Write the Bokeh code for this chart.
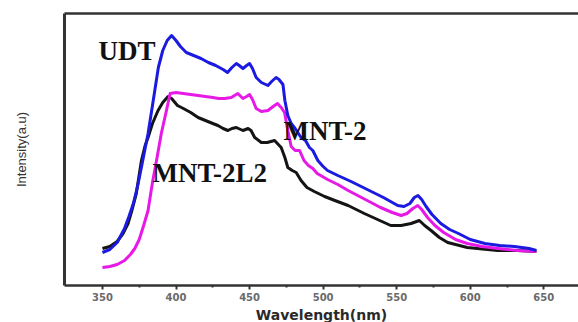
from bokeh.plotting import figure
from bokeh.models import Range1d, FixedTicker, LinearAxis, Label
from bokeh.embed import file_html
from bokeh.resources import INLINE

# Emission spectra (wavelength in nm, intensity in arbitrary units)
udt_wl = [350, 355, 360, 365, 368, 371, 374, 377, 381, 384, 388, 391, 394, 397,
          400, 403, 407, 412, 417, 422, 427, 432, 435, 438, 441, 443, 445.5, 448,
          450, 452, 454.5, 458, 462.5, 465, 468, 470, 472.7, 474, 476, 478.3, 481,
          485, 488, 490.7, 493, 496.4, 500, 503, 510, 519, 530, 541, 550.7, 555,
          559, 562, 564.5, 567, 570, 574, 580, 586, 592, 600, 610, 620, 630, 640, 645]
udt_int = [33, 36, 43, 57, 69, 82, 100, 122, 152, 180, 218, 235, 245, 250,
           245, 239, 233, 230, 227, 223, 220, 216, 213, 218, 222, 220, 217, 220,
           222, 217, 208, 203, 200, 204, 208, 206, 201, 185, 170, 162, 157,
           148, 145, 138, 135, 125, 119, 115, 110, 104, 96, 88, 80, 79,
           82, 88, 90, 86, 79, 71, 62, 56, 52, 46, 42, 40, 39, 37, 35]

mnt2_wl = [350, 355, 360, 365, 369, 372, 375, 378, 381, 384, 387, 390, 393.5, 396,
           400, 405, 410, 415, 420, 425, 429, 433, 437.6, 442, 445.5, 448, 450, 452,
           454.5, 458, 462.5, 466, 469, 471.5, 473.8, 476, 478.3, 481, 484, 487, 490,
           493, 496, 503, 510, 517, 530, 539, 547, 553, 557, 561, 564.3, 567, 571,
           576, 582, 590, 598, 608, 619, 632, 645]
mnt2_int = [18, 19, 21, 25, 31, 37, 46, 60, 75, 103, 127, 152, 175, 192,
            193, 192, 191, 190, 189, 188, 187, 187, 188, 192, 187, 189, 191, 186,
            177, 174, 175, 179, 182, 178, 173, 155, 139, 135, 135, 125, 120,
            117, 112, 106, 101, 95, 85, 78, 73, 70, 72, 77, 80, 76, 68,
            60, 53, 46, 42, 39, 37, 35, 34]

mnt2l2_wl = [350, 355, 360, 364, 367.4, 370, 373, 376.5, 379, 381, 384, 387.8, 391,
             394.6, 397, 401, 405, 410, 415, 420, 425, 428.5, 432, 435.3, 438, 441,
             445.5, 449, 451, 453.5, 458, 462, 467, 471.5, 474, 476, 479, 481.7, 485,
             489, 494, 501, 508, 517, 528, 537, 546, 553, 559.8, 565.4, 569, 573.4,
             579, 584.7, 598, 618.6, 632, 645]
mnt2l2_int = [37, 39, 44, 52, 62, 75, 92, 125, 140, 148, 162, 175, 183,
              189, 187, 180, 177, 173, 168, 165, 162, 160, 157, 155, 157, 158,
              155, 157, 155, 148, 143, 143, 145, 138, 128, 118, 115, 113, 105,
              98, 94, 89, 85, 80, 72, 66, 60, 60, 62, 65, 60, 55,
              48, 43, 38, 35, 35, 34]

x_major = [350, 400, 450, 500, 550, 600, 650]
x_minor = [375, 425, 475, 525, 575, 625]

p = figure(width=578, height=322, output_backend="svg", toolbar_location=None,
           x_range=Range1d(324.2, 673.6), y_range=Range1d(0, 272),
           frame_width=514, frame_height=272,
           min_border_left=64, min_border_right=0, min_border_top=13,
           min_border_bottom=37)
p.outline_line_color = None
p.background_fill_color = "white"
p.border_fill_color = "white"
p.xgrid.visible = False
p.ygrid.visible = False

axis_color = "#333333"

# bottom wavelength axis
xa = p.xaxis[0]
xa.ticker = FixedTicker(ticks=x_major, minor_ticks=x_minor)
xa.axis_line_width = 2.5
xa.axis_line_color = axis_color
xa.major_tick_line_color = axis_color
xa.major_tick_line_width = 2
xa.major_tick_out = 4
xa.major_tick_in = 0
xa.minor_tick_line_color = axis_color
xa.minor_tick_line_width = 2
xa.minor_tick_out = 2
xa.minor_tick_in = 0
xa.major_label_text_font = "DejaVu Sans"
xa.major_label_text_font_style = "bold"
xa.major_label_text_font_size = "10px"
xa.major_label_text_color = "#6a6a6a"
xa.major_label_standoff = 3
xa.axis_label = "Wavelength(nm)"
xa.axis_label_text_font = "DejaVu Sans"
xa.axis_label_text_font_style = "bold"
xa.axis_label_text_font_size = "14px"
xa.axis_label_text_color = "#2a2a2a"
xa.axis_label_standoff = 3

# left intensity axis, no ticks
ya = p.yaxis[0]
ya.ticker = FixedTicker(ticks=[])
ya.axis_line_width = 3
ya.axis_line_color = axis_color
ya.major_tick_line_color = None
ya.minor_tick_line_color = None
ya.axis_label = "Intensity(a.u)"
ya.axis_label_text_font = "Liberation Sans"
ya.axis_label_text_font_style = "normal"
ya.axis_label_text_font_size = "13px"
ya.axis_label_text_color = "#333333"
ya.axis_label_standoff = 36

# top frame edge
top = LinearAxis(ticker=FixedTicker(ticks=[]), axis_line_width=2.5,
                 axis_line_color=axis_color, major_tick_line_color=None,
                 minor_tick_line_color=None, major_label_text_font_size="0px")
p.add_layout(top, "above")

p.line(mnt2l2_wl, mnt2l2_int, line_color="#141414", line_width=3, line_join="round")
p.line(mnt2_wl, mnt2_int, line_color="#e619e6", line_width=3, line_join="round")
p.line(udt_wl, udt_int, line_color="#1a1ae0", line_width=3, line_join="round")

label_style = dict(text_font="Liberation Serif", text_font_style="bold",
                   text_font_size="27px", text_color="#111111",
                   text_baseline="alphabetic")
p.add_layout(Label(x=347.3, y=235, text="UDT", **label_style))
p.add_layout(Label(x=473, y=155, text="MNT-2", **label_style))
p.add_layout(Label(x=384, y=113, text="MNT-2L2", **label_style))

open("out.html", "w").write(file_html(p, INLINE))
